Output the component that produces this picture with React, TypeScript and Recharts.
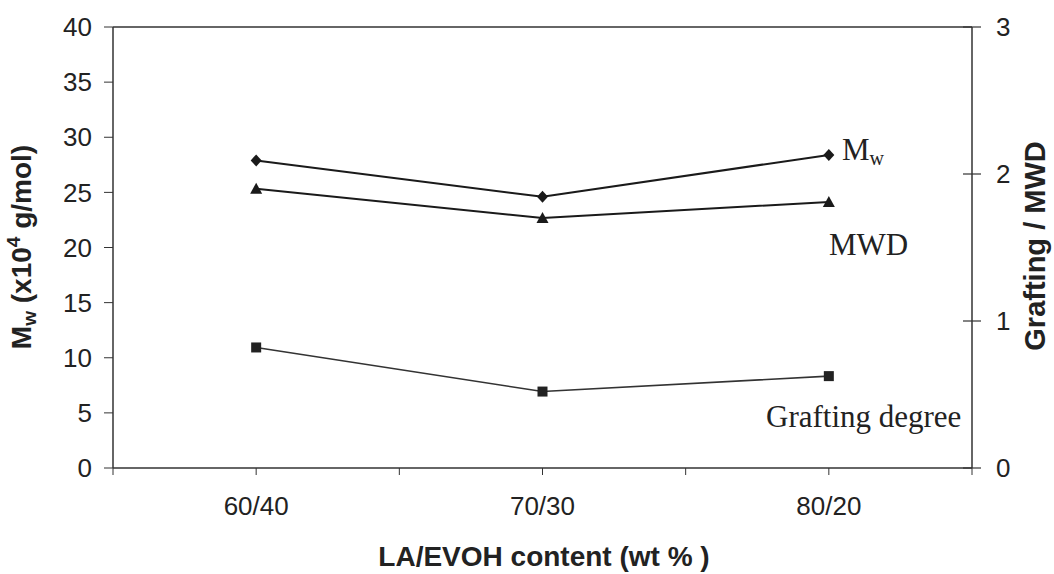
import { LineChart, Line, XAxis, YAxis, ReferenceLine, Customized } from 'recharts';

// LA/EVOH blend ratios (wt %)
const categories = ['60/40', '70/30', '80/20'];
// weight-average molecular weight, x10^4 g/mol (left axis)
const mwValues = [27.9, 24.6, 28.4];
// molecular weight distribution (right axis)
const mwdValues = [1.9, 1.7, 1.81];
// grafting degree (right axis)
const graftingValues = [0.82, 0.52, 0.625];

const leftTicks = [0, 5, 10, 15, 20, 25, 30, 35, 40];
const rightTicks = [0, 1, 2, 3];
const xTicks = [0, 0.5, 1, 1.5, 2, 2.5, 3];

const data = categories.map((name, i) => ({
  pos: i + 0.5,
  name,
  mw: mwValues[i],
  mwd: mwdValues[i],
  grafting: graftingValues[i],
}));

const sans = 'Arial, "Liberation Sans", sans-serif';
const serif = '"Times New Roman", "Liberation Serif", serif';
const ink = '#1a1a1a';

const Diamond = (props: any) => {
  const { cx, cy } = props;
  if (cx == null || cy == null) return null;
  return <path d={`M${cx},${cy - 6}L${cx + 5.5},${cy}L${cx},${cy + 6}L${cx - 5.5},${cy}Z`} fill={ink} />;
};

const Triangle = (props: any) => {
  const { cx, cy } = props;
  if (cx == null || cy == null) return null;
  return <path d={`M${cx},${cy - 6}L${cx + 6},${cy + 5}L${cx - 6},${cy + 5}Z`} fill={ink} />;
};

const Square = (props: any) => {
  const { cx, cy } = props;
  if (cx == null || cy == null) return null;
  return <rect x={cx - 5} y={cy - 5} width={10} height={10} fill="#222" />;
};

// right axis ticks cross the axis line
const RightTick = (props: any) => {
  const { x, y, payload } = props;
  const axisX = x - 24;
  return (
    <g>
      <line x1={axisX - 9} x2={axisX + 9} y1={y} y2={y} stroke="#333" strokeWidth={1.2} />
      <text x={x} y={y} dy="0.36em" fontSize={26} fontFamily={sans} fill="#222">
        {payload.value}
      </text>
    </g>
  );
};

const Annotations = () => (
  <g>
    {/* axis titles */}
    <text
      transform="translate(31,247) rotate(-90)"
      textAnchor="middle"
      fontSize={28}
      fontWeight="bold"
      fontFamily={sans}
      fill="#222"
    >
      M<tspan fontSize={19} dy={5}>w</tspan>
      <tspan dy={-5}> (x10</tspan>
      <tspan fontSize={19} dy={-11}>4</tspan>
      <tspan dy={11}> g/mol)</tspan>
    </text>
    <text
      transform="translate(1045,246) rotate(-90)"
      textAnchor="middle"
      fontSize={29}
      fontWeight="bold"
      fontFamily={sans}
      fill="#222"
    >
      Grafting / MWD
    </text>
    <text x={544} y={566} textAnchor="middle" fontSize={28} fontWeight="bold" fontFamily={sans} fill="#222">
      LA/EVOH content (wt % )
    </text>
    {/* series names */}
    <text x={842} y={160} fontSize={31} fontFamily={serif} fill="#222">
      M<tspan fontSize={20} dy={5}>w</tspan>
    </text>
    <text x={829} y={255} fontSize={31} fontFamily={serif} fill="#222">
      MWD
    </text>
    <text x={766} y={427} fontSize={31} fontFamily={serif} fill="#222">
      Grafting degree
    </text>
  </g>
);

export default function App() {
  return (
    <div style={{ width: 1054, height: 574, background: '#fff' }}>
      <style>{'body{margin:0}'}</style>
      <LineChart width={1054} height={574} data={data} margin={{ top: 27, right: 0, bottom: 0, left: 0 }}>
        <XAxis
          type="number"
          dataKey="pos"
          domain={[0, 3]}
          ticks={xTicks}
          tickFormatter={(v: number) => (v % 1 === 0.5 ? categories[Math.floor(v)] : '')}
          height={106}
          tickSize={7}
          tickMargin={22}
          axisLine={{ stroke: '#333', strokeWidth: 1.5 }}
          tickLine={{ stroke: '#333' }}
          tick={{ fontSize: 26, fontFamily: sans, fill: '#222' }}
        />
        <YAxis
          yAxisId="left"
          domain={[0, 40]}
          ticks={leftTicks}
          width={113}
          tickSize={9}
          tickMargin={12}
          interval={0}
          axisLine={{ stroke: '#333', strokeWidth: 1.5 }}
          tickLine={{ stroke: '#333' }}
          tick={{ fontSize: 26, fontFamily: sans, fill: '#222' }}
        />
        <YAxis
          yAxisId="right"
          orientation="right"
          domain={[0, 3]}
          ticks={rightTicks}
          width={82}
          tickSize={8}
          tickMargin={16}
          interval={0}
          tickLine={false}
          axisLine={{ stroke: '#333', strokeWidth: 1.5 }}
          tick={<RightTick />}
        />
        <ReferenceLine yAxisId="left" y={40} stroke="#333" strokeWidth={1.5} />
        <Line
          yAxisId="left"
          dataKey="mw"
          stroke={ink}
          strokeWidth={2}
          dot={<Diamond />}
          activeDot={false}
          isAnimationActive={false}
        />
        <Line
          yAxisId="right"
          dataKey="mwd"
          stroke={ink}
          strokeWidth={2}
          dot={<Triangle />}
          activeDot={false}
          isAnimationActive={false}
        />
        <Line
          yAxisId="right"
          dataKey="grafting"
          stroke="#333"
          strokeWidth={1.6}
          dot={<Square />}
          activeDot={false}
          isAnimationActive={false}
        />
        <Customized component={<Annotations />} />
      </LineChart>
    </div>
  );
}
